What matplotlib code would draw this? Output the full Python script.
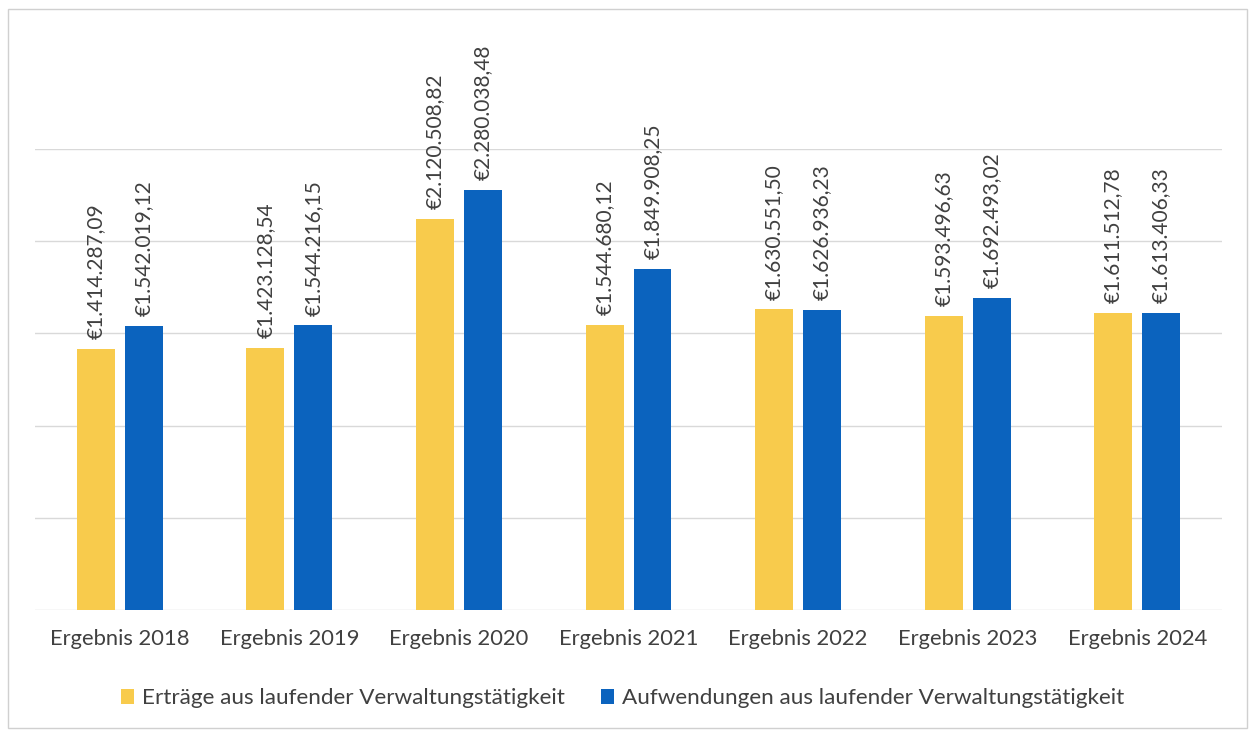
import numpy as np
import matplotlib.pyplot as plt
from matplotlib.patches import Rectangle

categories = ['Ergebnis 2018', 'Ergebnis 2019', 'Ergebnis 2020', 'Ergebnis 2021',
              'Ergebnis 2022', 'Ergebnis 2023', 'Ergebnis 2024']
ertraege = [1414287.09, 1423128.54, 2120508.82, 1544680.12,
            1630551.50, 1593496.63, 1611512.78]
aufwendungen = [1542019.12, 1544216.15, 2280038.48, 1849908.25,
                1626936.23, 1692493.02, 1613406.33]
series_names = ['Erträge aus laufender Verwaltungstätigkeit',
                'Aufwendungen aus laufender Verwaltungstätigkeit']

YELLOW = '#F8CB4C'
BLUE = '#0B63BE'
TEXT = '#404040'

plt.rcParams['font.family'] = ['Lato', 'DejaVu Sans']


def euro(v):
    s = '{:,.2f}'.format(v)
    s = s.replace(',', '#').replace('.', ',').replace('#', '.')
    return '€' + s


fig = plt.figure(figsize=(12.55, 7.32), dpi=100)
ax = fig.add_axes([0.0279, 0.1667, 0.9458, 0.6297])

x = np.arange(len(categories))
w = 0.224
off = 0.1415
b1 = ax.bar(x - off, ertraege, w, color=YELLOW, label=series_names[0], zorder=3)
b2 = ax.bar(x + off, aufwendungen, w, color=BLUE, label=series_names[1], zorder=3)

# rotated value labels above each bar
for bars, vals in ((b1, ertraege), (b2, aufwendungen)):
    for rect, v in zip(bars, vals):
        ax.annotate(euro(v), (rect.get_x() + rect.get_width() / 2, v),
                    xytext=(0, 7), textcoords='offset points',
                    rotation=90, ha='center', va='bottom',
                    fontsize=15.0, color=TEXT, annotation_clip=False)

ax.set_xlim(-0.5, len(categories) - 0.5)
ax.set_ylim(0, 2500000)
ax.set_yticks(np.arange(0, 2500001, 500000))
ax.yaxis.grid(True, color='#D9D9D9', linewidth=1, zorder=0)
ax.tick_params(axis='y', left=False, labelleft=False)
ax.tick_params(axis='x', bottom=False, labelsize=15.8, labelcolor=TEXT, pad=10)
ax.set_xticks(x)
ax.set_xticklabels(categories)
for s in ax.spines.values():
    s.set_visible(False)

fig.legend(handles=[b1, b2], loc='center', bbox_to_anchor=(0.496, 0.046),
           ncol=2, frameon=False, fontsize=16.2, labelcolor=TEXT,
           handlelength=0.6, handleheight=0.6, handletextpad=0.35,
           columnspacing=1.6)

fig.patches.append(Rectangle((0.006, 0.006), 0.988, 0.982, transform=fig.transFigure,
                             fill=False, edgecolor='#D0D0D0', linewidth=1))

fig.savefig('out.png', dpi=100)
